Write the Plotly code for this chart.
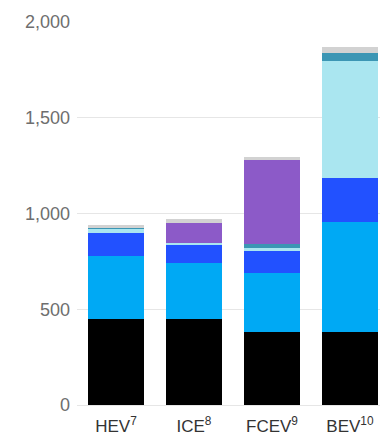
import plotly.graph_objects as go

categories = ["HEV<sup>7</sup>", "ICE<sup>8</sup>", "FCEV<sup>9</sup>", "BEV<sup>10</sup>"]

seg_black = [447, 449, 380, 383]
seg_blue = [332, 294, 308, 571]
seg_royal = [117, 94, 116, 230]
seg_lightcyan = [26, 10, 18, 614]
seg_teal = [7, 0, 21, 42]
seg_purple = [0, 101, 434, 0]
seg_gray = [10, 22, 16, 31]

series = [
    ("s1", seg_black, "#000000"),
    ("s2", seg_blue, "#00A9F4"),
    ("s3", seg_royal, "#2251FF"),
    ("s4", seg_lightcyan, "#AAE6F0"),
    ("s5", seg_teal, "#3C96B4"),
    ("s6", seg_purple, "#8C5AC8"),
    ("s7", seg_gray, "#D2D2D2"),
]

x_idx = list(range(len(categories)))

fig = go.Figure()
for name, vals, col in series:
    fig.add_trace(go.Bar(
        x=x_idx, y=vals, name=name,
        marker=dict(color=col, line=dict(width=0)),
        hoverinfo="skip",
    ))

fig.update_layout(
    barmode="stack",
    bargap=0.273,
    width=380, height=438,
    margin=dict(l=77, r=0, t=22, b=33),
    paper_bgcolor="white",
    plot_bgcolor="white",
    showlegend=False,
    font=dict(family="Liberation Sans, Arial, sans-serif"),
)
fig.update_xaxes(
    tickmode="array", tickvals=x_idx, ticktext=categories,
    range=[-0.5, 3.385],
    showgrid=False, zeroline=False, showline=False,
    tickfont=dict(size=17, color="#333333"),
    ticks="", ticklabelstandoff=9,
)
fig.update_yaxes(
    range=[0, 2000],
    tickvals=[0, 500, 1000, 1500, 2000],
    ticktext=["0", "500", "1,000", "1,500", "2,000"],
    showgrid=True, gridcolor="#E6E6E6", gridwidth=1,
    zeroline=True, zerolinecolor="#E6E6E6", zerolinewidth=1,
    showline=False,
    tickfont=dict(size=18, color="#6E6E6E"),
    ticks="", ticklabelstandoff=6,
)

fig.write_html("out.html")
